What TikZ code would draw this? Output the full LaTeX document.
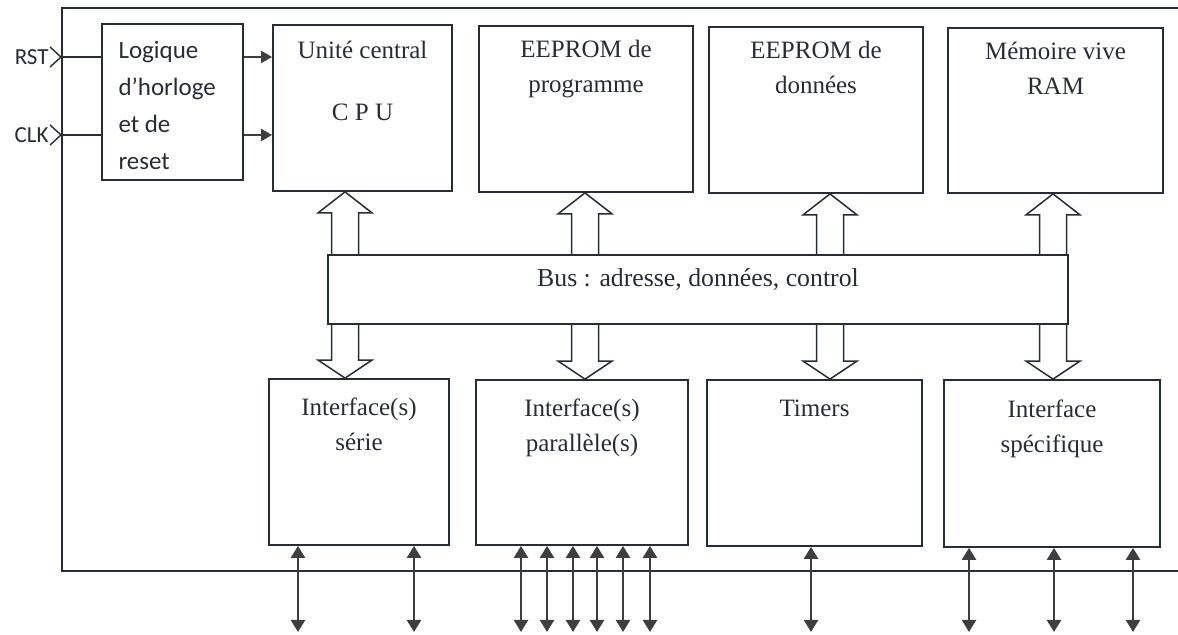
\documentclass[tikz,border=0pt]{standalone}
\usepackage{fontspec}
\setmainfont{Liberation Serif}
\newfontfamily\calfont{Carlito}
\usetikzlibrary{arrows.meta,calc}
\definecolor{ink}{RGB}{38,44,56}
\definecolor{wire}{RGB}{62,62,64}

\begin{document}
\begin{tikzpicture}[x=0.5pt,y=-0.5pt,
  font=\fontsize{12.5}{17.5}\selectfont,
  blk/.style={draw=ink, line width=0.9pt, inner sep=0pt},
  txt/.style={text=ink, inner sep=0pt, align=center, anchor=north},
  caltxt/.style={text=ink, inner sep=0pt, font=\calfont\fontsize{12.5}{18.5}\selectfont},
  wide/.style={draw=ink, line width=0.75pt},
  frame/.style={draw=ink, line width=1pt},
  pin/.style={draw=ink, line width=0.7pt},
  sig/.style={draw=wire, line width=1.1pt, -{Triangle[width=6pt,length=5.5pt]}},
  io/.style={draw=wire, line width=1.2pt, {Triangle[width=7pt,length=6pt]}-{Triangle[width=7pt,length=6pt]}}
]
\useasboundingbox (0,0) rectangle (1178,635);
\draw[frame] (1178,8) -- (62,8) -- (62,571) -- (1178,571);

\node[blk, minimum width=70.5pt, minimum height=78pt] (logic) at (172.5,102) {};
\node[blk, minimum width=89.5pt, minimum height=83pt] (cpu) at (362.5,108) {};
\node[blk, minimum width=107pt, minimum height=83pt] (eprog) at (586,109) {};
\node[blk, minimum width=107pt, minimum height=83pt] (edata) at (816,110) {};
\node[blk, minimum width=107.5pt, minimum height=82.5pt] (ram) at (1055.5,110.5) {};
\node[blk, minimum width=370pt, minimum height=34.5pt, text=ink, text height=9pt, text depth=11.5pt, font=\fontsize{12.9}{17.5}\selectfont] (bus) at (698,289.5) {Bus : adresse, données, control};
\node[blk, minimum width=90pt, minimum height=83pt] (serie) at (359,462) {};
\node[blk, minimum width=106pt, minimum height=82.5pt] (para) at (582,462.5) {};
\node[blk, minimum width=107.5pt, minimum height=83pt] (timers) at (814.5,463) {};
\node[blk, minimum width=108pt, minimum height=83.5pt] (spec) at (1052,463.5) {};

\node[caltxt, anchor=north west, align=left] (logictxt) at ($(logic.north west)+(17,18)$) {Logique\\d’horloge\\et de\\reset};
\node[txt] (cputxt) at ($(cpu.north)+(0,17)$) {Unité central\\[13.5pt]C P U};
\node[txt] (eprogtxt) at ($(eprog.north)+(0,15)$) {EEPROM de\\programme};
\node[txt] (edatatxt) at ($(edata.north)+(0,15)$) {EEPROM de\\données};
\node[txt] (ramtxt) at ($(ram.north)+(0,15)$) {Mémoire vive\\RAM};
\node[txt] (serietxt) at ($(serie.north)+(0,19)$) {Interface(s)\\série};
\node[txt] (paratxt) at ($(para.north)+(0,19)$) {Interface(s)\\parallèle(s)};
\node[txt] (timerstxt) at ($(timers.north)+(0,20)$) {Timers};
\node[txt] (spectxt) at ($(spec.north)+(0,20)$) {Interface\\spécifique};

\coordinate (rst) at (61,57);
\coordinate (clk) at (61,135);
\node[caltxt, anchor=east, font=\calfont\fontsize{11.5}{13}\selectfont] (rstlbl) at ($(rst)+(-12,0)$) {RST};
\node[caltxt, anchor=east, font=\calfont\fontsize{11.5}{13}\selectfont] (clklbl) at ($(clk)+(-12,0)$) {CLK};
\foreach \p in {rst,clk} {
  \draw[pin] ($(\p)+(-11,-10)$) -- (\p) -- ($(\p)+(-11,10)$);
  \draw[pin] (\p) -- (logic.west |- \p);
  \draw[sig] (logic.east |- \p) -- (cpu.west |- \p);
}

\foreach \x/\up/\dn in {345/cpu/serie,585/eprog/para,830/edata/timers,1053/ram/spec} {
  \coordinate (tu) at (\up.south -| \x,0);
  \coordinate (bu) at (bus.north -| \x,0);
  \draw[wide] ($(bu)+(-13.5,0)$) -- ($(tu)+(-13.5,21)$) -- ($(tu)+(-27,21)$) -- (tu) -- ($(tu)+(27,21)$) -- ($(tu)+(13.5,21)$) -- ($(bu)+(13.5,0)$);
  \coordinate (td) at (\dn.north -| \x,0);
  \coordinate (bd) at (bus.south -| \x,0);
  \draw[wide] ($(bd)+(-13.5,0)$) -- ($(td)+(-13.5,-18)$) -- ($(td)+(-27,-18)$) -- (td) -- ($(td)+(27,-18)$) -- ($(td)+(13.5,-18)$) -- ($(bd)+(13.5,0)$);
}

\foreach \b/\xs in {serie/{298,414},para/{521,547,573,597,623,650},timers/{811},spec/{969,1054,1133}} {
  \foreach \x in \xs {
    \coordinate (out) at (\x,632);
    \draw[io] (\b.south -| out) -- (out);
  }
}
\end{tikzpicture}
\end{document}
